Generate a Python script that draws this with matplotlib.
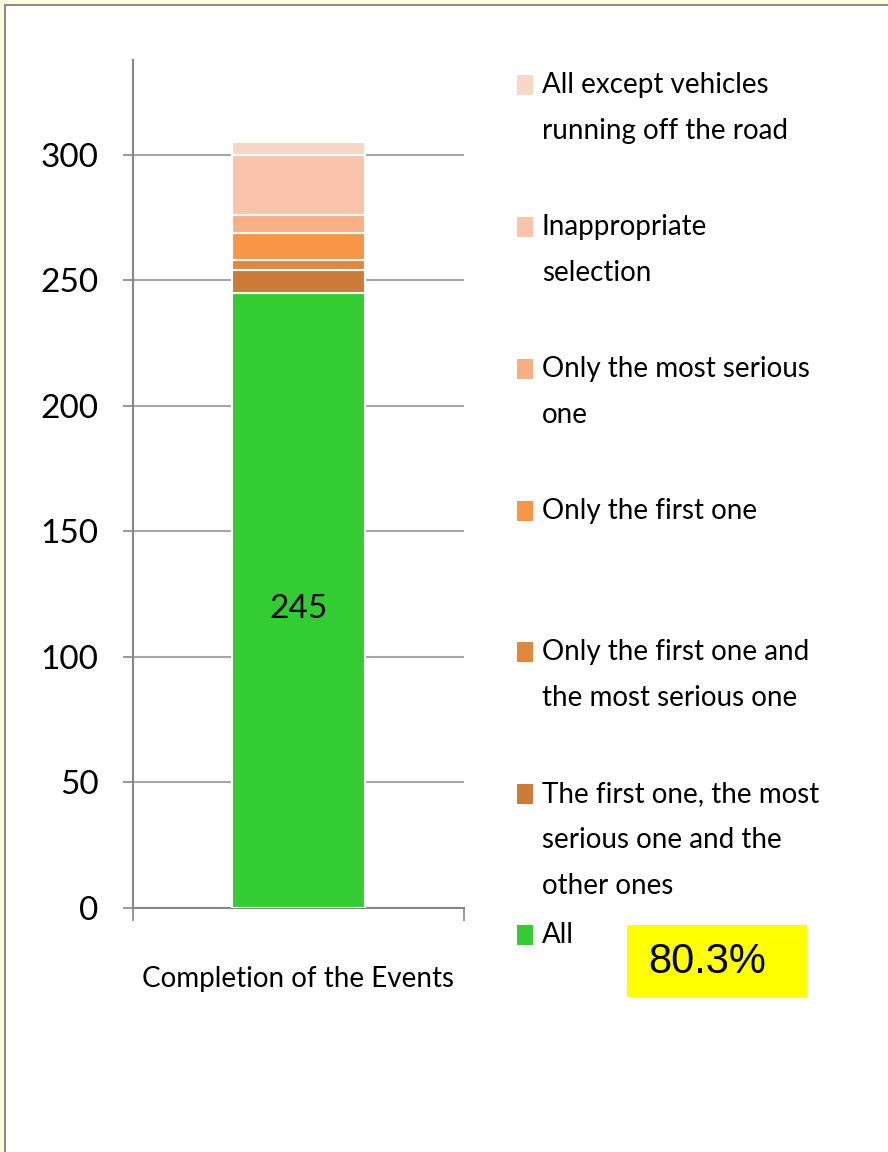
import matplotlib
matplotlib.use("Agg")
from matplotlib import pyplot as plt
from matplotlib.patches import Rectangle

plt.rcParams["font.family"] = ["Lato", "DejaVu Sans"]

category = "Completion of the Events"
series_names = [
    "All",
    "The first one, the most\nserious one and the\nother ones",
    "Only the first one and\nthe most serious one",
    "Only the first one",
    "Only the most serious\none",
    "Inappropriate\nselection",
    "All except vehicles\nrunning off the road",
]
series_values = [245, 9, 4, 11, 7, 24, 5]
series_colors = ["#33CC33", "#CC7B38", "#E2883E", "#F79646", "#F9AF85", "#F9C4AB", "#FAD6C6"]
y_ticks = [0, 50, 100, 150, 200, 250, 300]
share_text = "80.3%"

W, H = 888, 1152
fig = plt.figure(figsize=(W / 100, H / 100), dpi=100)
fig.patch.set_facecolor("#FFFFE0")

# white panel with grey border on top / left
fig.patches.append(Rectangle((5 / W, -0.05), 1.2, 1 - 5 / H + 0.05, transform=fig.transFigure,
                             facecolor="white", edgecolor="#8C8C8C", linewidth=1.5, zorder=-5))

ax = fig.add_axes([133 / W, 1 - 908 / H, 331 / W, 848 / H])
ax.set_zorder(2)
ax.set_facecolor("none")

bottom = 0
bars = []
for value, color in zip(series_values, series_colors):
    b = ax.bar(0, value, width=0.4, bottom=bottom, color=color, edgecolor="white", linewidth=1.5, zorder=3)
    bars.append(b)
    bottom += value

ax.bar_label(bars[0], labels=[str(series_values[0])], label_type="center", fontsize=24, color="black",
             padding=-6)

ax.set_xlim(-0.5, 0.5)
ax.set_ylim(0, 337.7)
ax.set_yticks(y_ticks)
ax.set_yticklabels([str(t) for t in y_ticks], fontsize=24)
ax.yaxis.grid(True, color="#A6A6A6", linewidth=1.5, zorder=0)
ax.tick_params(axis="y", direction="out", length=7, width=1.2, color="#868686", pad=18)

ax.set_xticks([0])
ax.set_xticklabels([category], fontsize=20)
ax.set_xticks([-0.5, 0.5], minor=True)
ax.tick_params(axis="x", which="major", length=0, pad=42)
ax.tick_params(axis="x", which="minor", direction="out", length=9, width=1.2, color="#868686")

for side in ["top", "right"]:
    ax.spines[side].set_visible(False)
for side in ["left", "bottom"]:
    ax.spines[side].set_color("#868686")
    ax.spines[side].set_linewidth(1.5)

# legend drawn by hand, top entry first
entry_y = [85, 227, 369, 511, 652, 794, 935]
for name, color, y in zip(series_names[::-1], series_colors[::-1], entry_y):
    fig.patches.append(Rectangle((517 / W, 1 - (y + 10) / H), 16 / W, 20 / H, transform=fig.transFigure,
                                 facecolor=color, edgecolor="none", zorder=1))
    for i, line in enumerate(name.split("\n")):
        fig.text(542 / W, 1 - (y + i * 46) / H, line, fontsize=20, va="center", ha="left")

fig.patches.append(Rectangle((627 / W, 1 - 997 / H), 180 / W, 72 / H, transform=fig.transFigure,
                             facecolor="#FFFF00", edgecolor="none", zorder=1))
fig.text(707 / W, 1 - 962 / H, share_text, fontsize=30, va="center", ha="center",
         family=["Liberation Sans", "DejaVu Sans"])

fig.savefig("out.png", dpi=100, facecolor=fig.get_facecolor())
